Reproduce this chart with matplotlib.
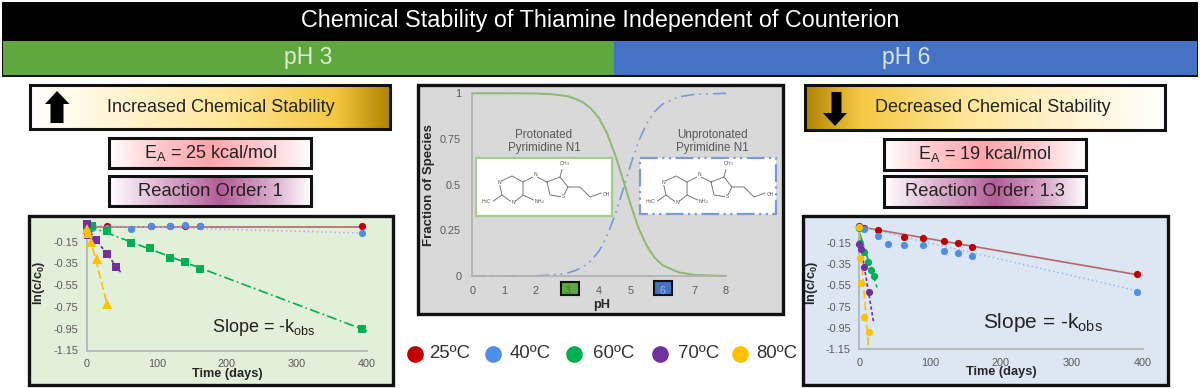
import numpy as np
import matplotlib
matplotlib.use("Agg")
import matplotlib.pyplot as plt
from matplotlib.colors import LinearSegmentedColormap
from matplotlib.patches import Rectangle, Polygon

plt.rcParams['font.family'] = ['Liberation Sans', 'DejaVu Sans']
plt.rcParams['mathtext.fontset'] = 'custom'
plt.rcParams['mathtext.rm'] = 'Liberation Sans'
plt.rcParams['mathtext.it'] = 'Liberation Sans'
plt.rcParams['mathtext.bf'] = 'Liberation Sans:bold'

# pH 3 data
p3_days_25 = [0, 1, 3, 7, 28, 91, 119, 140, 161, 393]
p3_vals_25 = [-0.00, -0.00, -0.01, -0.01, -0.01, -0.005, -0.005, -0.005, -0.005, -0.005]
p3_days_40 = [0, 1, 3, 7, 28, 63, 91, 119, 140, 161, 393]
p3_vals_40 = [0.0, -0.01, -0.01, -0.02, -0.02, -0.03, -0.005, -0.005, 0.005, -0.01, -0.07]
p3_days_60 = [0, 7, 28, 63, 90, 119, 140, 161, 393]
p3_vals_60 = [-0.01, -0.01, -0.05, -0.165, -0.21, -0.30, -0.34, -0.40, -0.95]
p3_days_70 = [0, 1, 13, 28, 42]
p3_vals_70 = [0.01, -0.09, -0.13, -0.26, -0.385]
p3_days_80 = [0, 1, 6, 14, 28]
p3_vals_80 = [-0.03, -0.07, -0.15, -0.31, -0.72]

# pH 6 data
p6_days_25 = [0, 7, 27, 63, 90, 119, 140, 159, 392]
p6_vals_25 = [0.0, -0.015, -0.03, -0.10, -0.106, -0.1375, -0.156, -0.1875, -0.444]
p6_days_40 = [0, 7, 27, 40, 63, 90, 119, 140, 159, 392]
p6_vals_40 = [0.005, -0.025, -0.0875, -0.1625, -0.17, -0.175, -0.225, -0.244, -0.278, -0.6125]
p6_days_60 = [0, 1, 7, 12, 16, 21]
p6_vals_60 = [-0.015, -0.15, -0.234, -0.328, -0.403, -0.4625]
p6_days_70 = [0, 0, 2, 7, 13]
p6_vals_70 = [0.005, -0.16, -0.21, -0.375, -0.6125]
p6_days_80 = [0, 0.5, 3, 7, 13]
p6_vals_80 = [-0.006, -0.29, -0.525, -0.85, -0.985]

# trend lines (start and end)
p3_trend_x = [[0, 393], [0, 393], [0, 400], [0, 48], [0, 30]]
p3_trend_y = [[-0.012, -0.012], [0.0, -0.07], [0.0, -0.97], [-0.02, -0.43], [0.0, -0.76]]
p6_trend_x = [[0, 392], [0, 392], [0, 25], [0, 20], [0, 13]]
p6_trend_y = [[0.0, -0.45], [0.0, -0.60], [-0.05, -0.57], [-0.1, -0.89], [-0.05, -1.13]]

temps = ["25ºC", "40ºC", "60ºC", "70ºC", "80ºC"]
colors = ["#C00000", "#4F8EE6", "#00B050", "#7030A0", "#FFC000"]
trend_colors = ["#B8666A", "#9DC0EA", "#00B050", "#7030A0", "#FFC000"]
trend_styles = ['-', ':', (0, (6, 2, 1, 2)), (0, (2, 1.5)), (0, (5, 2))]

y_ticks = [-0.15, -0.35, -0.55, -0.75, -0.95, -1.15]
x_ticks = [0, 100, 200, 300, 400]

# speciation curves
ph = [0, 1, 2, 2.5, 3, 3.25, 3.5, 3.75, 4, 4.25, 4.5, 4.75, 5, 5.25, 5.5, 5.75, 6, 6.5, 7, 8]
frac_prot = [1, 1, 0.999, 0.995, 0.984, 0.97, 0.95, 0.915, 0.863, 0.78, 0.666, 0.53, 0.387, 0.26,
             0.166, 0.10, 0.059, 0.02, 0.006, 0]
frac_unprot = [0, 0, 0.001, 0.005, 0.016, 0.03, 0.05, 0.085, 0.137, 0.22, 0.334, 0.47, 0.613, 0.74,
               0.834, 0.90, 0.941, 0.98, 0.994, 1]
ph_ticks = [0, 1, 2, 3, 4, 5, 6, 7, 8]
frac_ticks = [0, 0.25, 0.5, 0.75, 1]
frac_labels = ["0", "0.25", "0.5", "0.75", "1"]

W, H = 1200, 388
fig = plt.figure(figsize=(W / 100, H / 100), dpi=100)

# full figure axes in pixel coords for the boxes
bg = fig.add_axes([0, 0, 1, 1], zorder=0)
bg.set_xlim(0, W)
bg.set_ylim(H, 0)
bg.axis('off')


def px_axes(x0, x1, ytop, ybot):
    return fig.add_axes([x0 / W, 1 - ybot / H, (x1 - x0) / W, (ybot - ytop) / H], zorder=2, facecolor='none')


def grad_box(x0, x1, y0, y1, stops, lw=2.2):
    cmap = LinearSegmentedColormap.from_list("g", stops)
    bg.imshow(np.linspace(0, 1, 256).reshape(1, -1), cmap=cmap, extent=[x0, x1, y1, y0], aspect='auto', zorder=1)
    bg.add_patch(Rectangle((x0, y0), x1 - x0, y1 - y0, fill=False, ec='#111111', lw=lw, zorder=2))


# header
bg.add_patch(Rectangle((2, 2), 1196, 39, fc='black', ec='none'))
bg.add_patch(Rectangle((2, 41), 611, 36, fc='#111111', ec='none'))
bg.add_patch(Rectangle((613, 41), 585, 36, fc='#111111', ec='none'))
bg.add_patch(Rectangle((3, 41), 611, 33.5, fc='#5FA83F', ec='none'))
bg.add_patch(Rectangle((614, 41), 583, 33.5, fc='#4472C4', ec='none'))
bg.text(600, 21, "Chemical Stability of Thiamine Independent of Counterion", color='white', fontsize=16.8, ha='center', va='center')
bg.text(308.5, 57.5, "pH 3", color='#DDEBD0', fontsize=16.5, ha='center', va='center')
bg.text(906, 57.5, "pH 6", color='#DCE6F5', fontsize=16.5, ha='center', va='center')

# stability boxes
gold = ['#FFFFFF', '#FFF6DC', '#FFE699', '#F4C842', '#B08400']
grad_box(30, 390, 85, 129, [(0, gold[0]), (0.2, gold[1]), (0.55, gold[2]), (0.85, gold[3]), (1, gold[4])])
grad_box(805, 1165, 85, 130, [(0, gold[4]), (0.15, gold[3]), (0.45, gold[2]), (0.8, gold[1]), (1, gold[0])])
bg.text(220.5, 107, "Increased Chemical Stability", fontsize=13, ha='center', va='center', color='#222222')
bg.text(993, 107.5, "Decreased Chemical Stability", fontsize=13, ha='center', va='center', color='#222222')
bg.add_patch(Polygon([(57, 91), (69.5, 104), (63.5, 104), (63.5, 123), (50.5, 123), (50.5, 104), (45, 104)], fc='black', ec='none', zorder=3))
bg.add_patch(Polygon([(835, 126), (847, 113), (841.5, 113), (841.5, 92), (831.5, 92), (831.5, 113), (823, 113)], fc='black', ec='none', zorder=3))

pink = [(0, '#FFFFFF'), (0.25, '#FFC8CB'), (0.5, '#FFA5AB'), (0.75, '#FFC8CB'), (1, '#FFFFFF')]
plum = [(0, '#FFFFFF'), (0.3, '#D8A8C8'), (0.55, '#B45C98'), (0.8, '#D8A8C8'), (1, '#FFFFFF')]
grad_box(109, 311, 138, 168, pink)
grad_box(109, 311, 176, 206, plum)
grad_box(884, 1086, 139, 169.5, pink)
grad_box(884, 1086, 176, 206.5, plum)
bg.text(210.5, 153, "E$_{\\mathrm{A}}$ = 25 kcal/mol", fontsize=13, ha='center', va='center', color='#222222')
bg.text(210, 191.5, "Reaction Order: 1", fontsize=13.2, ha='center', va='center', color='#222222')
bg.text(985, 154, "E$_{\\mathrm{A}}$ = 19 kcal/mol", fontsize=13, ha='center', va='center', color='#222222')
bg.text(985, 191.5, "Reaction Order: 1.3", fontsize=13.2, ha='center', va='center', color='#222222')

# panels behind the plots
bg.add_patch(Rectangle((28.5, 215.5), 364.5, 169, fc='#E2EFD9', ec='#111111', lw=2.4))
bg.add_patch(Rectangle((803, 215.5), 365, 169, fc='#DCE7F3', ec='#111111', lw=2.4))
bg.add_patch(Rectangle((418, 84.5), 365, 229, fc='#D9D9D9', ec='#111111', lw=2.4))

# the 3 and 6 on the pH axis sit in little boxes
bg.add_patch(Rectangle((561, 282), 18, 13, fc='#5FA83F', ec='#111111', lw=1.5, zorder=3))
bg.add_patch(Rectangle((654, 281), 18, 14, fc='#4472C4', ec='#111111', lw=1.5, zorder=3))


def stability_panel(x0, x1, ytop, ybot, days, vals, tr_x, tr_y, markers, ms):
    ax = px_axes(x0, x1, ytop, ybot)
    for i in range(5):
        ax.plot(tr_x[i], tr_y[i], color=trend_colors[i], ls=trend_styles[i], lw=1.2, clip_on=False, zorder=2)
    for i in range(5):
        m_size = ms + 1.5 if markers[i] == '^' else ms
        ax.plot(days[i], vals[i], ls='none', marker=markers[i], color=colors[i], ms=m_size, mew=0, clip_on=False, zorder=3)
    ax.set_xlim(0, 400)
    ax.set_ylim(-1.15, 0)
    ax.set_xticks(x_ticks)
    ax.set_yticks(y_ticks)
    ax.set_yticklabels([f"{t:.2f}" for t in y_ticks])
    ax.tick_params(length=0, labelsize=7.8, labelcolor='#595959', pad=6)
    ax.tick_params(axis='x', pad=6)
    for s in ['top', 'right']:
        ax.spines[s].set_visible(False)
    for s in ['left', 'bottom']:
        ax.spines[s].set_color('#B4B8B4')
        ax.spines[s].set_linewidth(1.3)
    ax.set_xlabel("Time (days)", fontsize=9.2, fontweight='bold', color='#262626')
    ax.xaxis.set_label_coords(0.5, -0.14)
    ax.set_ylabel(r"$\mathbf{ln(c/c_0)}$", fontsize=9.2, color='#262626')
    return ax


ax3 = stability_panel(87, 367, 225.4, 350.5,
                      [p3_days_25, p3_days_40, p3_days_60, p3_days_70, p3_days_80],
                      [p3_vals_25, p3_vals_40, p3_vals_60, p3_vals_70, p3_vals_80],
                      p3_trend_x, p3_trend_y, ['o', 'o', 's', 's', '^'], 5.2)
ax3.yaxis.set_label_coords(-0.143, 0.54)
ax6 = stability_panel(859.3, 1142.7, 226.7, 349.3,
                      [p6_days_25, p6_days_40, p6_days_60, p6_days_70, p6_days_80],
                      [p6_vals_25, p6_vals_40, p6_vals_60, p6_vals_70, p6_vals_80],
                      p6_trend_x, p6_trend_y, ['o'] * 5, 5.2)
ax6.yaxis.set_label_coords(-0.139, 0.54)

bg.text(212, 327, "Slope = -k$_{\\mathrm{obs}}$", fontsize=13, ha='left', va='center', color='#222222', zorder=3)
bg.text(983, 323, "Slope = -k$_{\\mathrm{obs}}$", fontsize=15, ha='left', va='center', color='#222222', zorder=3)

# speciation plot
axc = px_axes(472.3, 726, 93.3, 276)
axc.plot(ph, frac_prot, color='#8DB870', lw=1.4, clip_on=False)
axc.plot(ph, frac_unprot, color='#7C9AD6', lw=1.2, ls=(0, (8, 3, 1, 3, 1, 3)), clip_on=False)
axc.set_xlim(0, 8)
axc.set_ylim(0, 1)
axc.set_xticks(ph_ticks)
axc.set_yticks(frac_ticks)
axc.set_yticklabels(frac_labels)
axc.tick_params(length=0, labelsize=7.8, labelcolor='#595959')
axc.tick_params(axis='x', pad=7.5)
axc.tick_params(axis='y', pad=8)
for s in ['top', 'right']:
    axc.spines[s].set_visible(False)
for s in ['left', 'bottom']:
    axc.spines[s].set_color('#B0B0B0')
    axc.spines[s].set_linewidth(1.2)
axc.set_xlabel("pH", fontsize=9.2, fontweight='bold', color='#262626')
axc.xaxis.set_label_coords(0.51, -0.128)
axc.set_ylabel("Fraction of Species", fontsize=9.5, fontweight='bold', color='#262626')
axc.yaxis.set_label_coords(-0.146, 0.5)
axc.get_xticklabels()[3].set_color('#3C7A2A')
axc.get_xticklabels()[6].set_color('#9CB8E8')

# structure boxes and bond sketch on top of the curves' middle
top = px_axes(0, W, 0, H)
top.set_xlim(0, W)
top.set_ylim(H, 0)
top.axis('off')
top.add_patch(Rectangle((476, 158), 136, 58, fc='white', ec='#A4CC8C', lw=1.6))
top.add_patch(Rectangle((639.5, 158), 136.5, 56, fc='white', ec='#7C9AD6', lw=1.6, ls=(0, (8, 2, 1, 2, 1, 2))))
top.text(544, 141.5, "Protonated\nPyrimidine N1", fontsize=8.4, ha='center', va='center', color='#595959', linespacing=1.2)
top.text(712.5, 141.5, "Unprotonated\nPyrimidine N1", fontsize=8.4, ha='center', va='center', color='#595959', linespacing=1.2)

# bonds of the molecule, in picture pixels relative to the box corner
bonds_x = [[29, 42, 53, 53, 43, 32, 29], [53, 68], [32, 22], [53, 65, 77], [77, 90, 98, 93, 80, 77],
           [90, 93], [98, 110, 120, 131]]
bonds_y = [[32, 26, 32, 45, 53, 45, 32], [45, 52], [45, 52], [32, 26, 32], [32, 27, 37, 47, 45, 32],
           [27, 15], [37, 37, 47, 43]]
atom_labels = ["H$_3$C", "NH$_2$", "N", "N", "S", "OH", "CH$_3$", "N"]
atom_x = [17, 70, 43, 29, 93, 136, 95, 65]
atom_y = [52, 52, 53, 32, 47, 44, 14, 25]


def molecule(ox, oy):
    for bx, by in zip(bonds_x, bonds_y):
        top.plot([ox + v for v in bx], [oy + v for v in by], color='#777777', lw=0.7)
    for t, ax_, ay_ in zip(atom_labels, atom_x, atom_y):
        top.text(ox + ax_, oy + ay_, t, fontsize=3.6, color='#555555', ha='center', va='center',
                 bbox=dict(fc='white', ec='none', pad=0.2))


molecule(470, 150)
molecule(634, 150)
top.set_xlim(0, W)
top.set_ylim(H, 0)

# legend row
legend_x = [415, 493, 574, 660, 740]
label_x = [429, 510, 592.5, 678, 756]
for i in range(5):
    bg.plot(legend_x[i], 353.5, 'o', color=colors[i], ms=12, mew=0)
    bg.text(label_x[i], 354, temps[i], fontsize=13.4, ha='left', va='center', color='#333333')
bg.set_xlim(0, W)
bg.set_ylim(H, 0)

plt.savefig("out.png", dpi=100)
